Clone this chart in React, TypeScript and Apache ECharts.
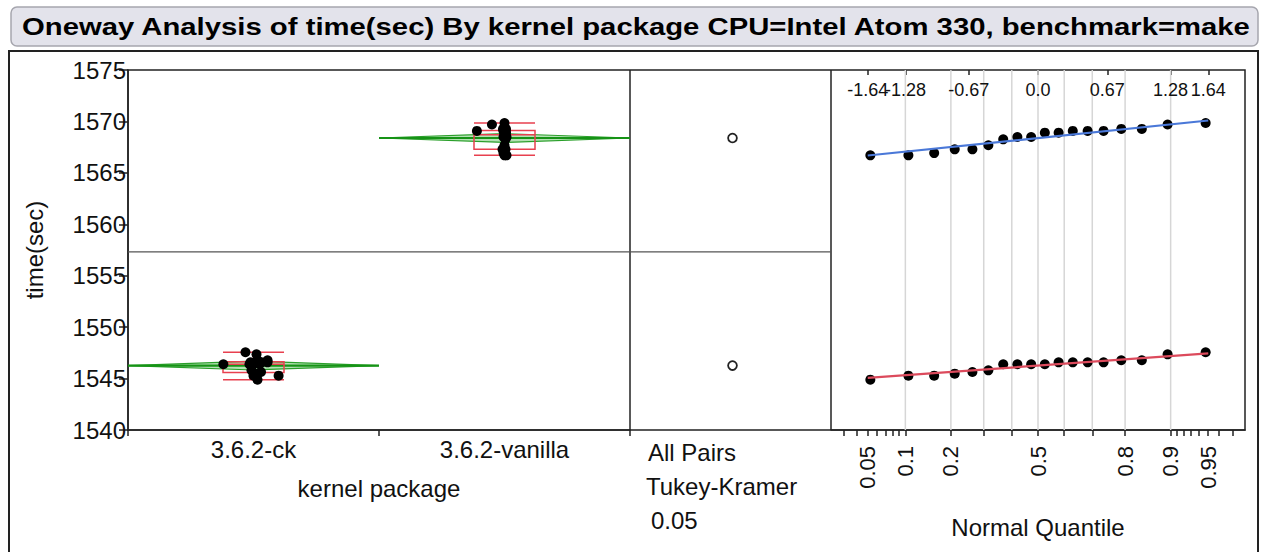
import React, { useEffect, useRef } from "react";
import * as echarts from "echarts";

// ---------- data ----------
const categories = ["3.6.2-ck", "3.6.2-vanilla"];
const ckTimes = [1544.89, 1545.28, 1545.28, 1545.48, 1545.64, 1545.8, 1546.39, 1546.39, 1546.39, 1546.39, 1546.58, 1546.58, 1546.58, 1546.58, 1546.78, 1546.78, 1547.36, 1547.56];
const ckJitter = [0.016, 0.1, 0, 0.016, 0.03, -0.008, -0.12, 0, 0.024, -0.016, 0.012, 0.032, -0.012, 0.056, 0.056, 0.016, 0.012, -0.032];
const vanillaTimes = [1566.7, 1566.7, 1566.92, 1567.29, 1567.29, 1567.68, 1568.26, 1568.49, 1568.49, 1568.91, 1568.91, 1569.08, 1569.08, 1569.08, 1569.27, 1569.27, 1569.7, 1569.85];
const vanillaJitter = [0, 0.008, -0.004, 0.004, -0.008, 0, 0.004, -0.004, 0.008, 0, 0.006, -0.11, 0.004, -0.004, 0.006, -0.006, -0.05, 0];
const yMin = 1540;
const yMax = 1575;
const yStep = 5;
const topQuantLabels = ["-1.64", "-1.28", "-0.67", "0.0", "0.67", "1.28", "1.64"];
const topQuantValues = [-1.645, -1.28, -0.67, 0, 0.67, 1.28, 1.645];
const probLabels = [0.05, 0.1, 0.2, 0.5, 0.8, 0.9, 0.95];
const probTicks = [0.03, 0.04, 0.05, 0.06, 0.07, 0.08, 0.09, 0.1, 0.2, 0.3, 0.4, 0.5, 0.6, 0.7, 0.8, 0.9, 0.91, 0.92, 0.93, 0.94, 0.95, 0.96, 0.97];
const probGrid = [0.1, 0.2, 0.3, 0.4, 0.5, 0.6, 0.7, 0.8, 0.9];
const tCrit = 2.032; // t(0.975, df=34)
const title = "Oneway Analysis of time(sec) By kernel package CPU=Intel Atom 330, benchmark=make";

// ---------- helpers ----------
function normInv(p: number): number {
  const a = [-3.969683028665376e1, 2.209460984245205e2, -2.759285104469687e2, 1.38357751867269e2, -3.066479806614716e1, 2.506628277459239];
  const b = [-5.447609879822406e1, 1.615858368580409e2, -1.556989798598866e2, 6.680131188771972e1, -1.328068155288572e1];
  const c = [-7.784894002430293e-3, -3.223964580411365e-1, -2.400758277161838, -2.549732539343734, 4.374664141464968, 2.938163982698783];
  const d = [7.784695709041462e-3, 3.224671290700398e-1, 2.445134137142996, 3.754408661907416];
  const pl = 0.02425;
  if (p < pl) {
    const q = Math.sqrt(-2 * Math.log(p));
    return (((((c[0] * q + c[1]) * q + c[2]) * q + c[3]) * q + c[4]) * q + c[5]) / ((((d[0] * q + d[1]) * q + d[2]) * q + d[3]) * q + 1);
  }
  if (p <= 1 - pl) {
    const q = p - 0.5;
    const r = q * q;
    return ((((((a[0] * r + a[1]) * r + a[2]) * r + a[3]) * r + a[4]) * r + a[5]) * q) / (((((b[0] * r + b[1]) * r + b[2]) * r + b[3]) * r + b[4]) * r + 1);
  }
  const q = Math.sqrt(-2 * Math.log(1 - p));
  return -(((((c[0] * q + c[1]) * q + c[2]) * q + c[3]) * q + c[4]) * q + c[5]) / ((((d[0] * q + d[1]) * q + d[2]) * q + d[3]) * q + 1);
}
const mean = (a: number[]) => a.reduce((s, v) => s + v, 0) / a.length;
const ss = (a: number[]) => {
  const m = mean(a);
  return a.reduce((s, v) => s + (v - m) * (v - m), 0);
};
const sd = (a: number[]) => Math.sqrt(ss(a) / (a.length - 1));
function quant(a: number[], p: number) {
  const s = [...a].sort((x, y) => x - y);
  const pos = (s.length + 1) * p;
  const lo = Math.min(Math.max(Math.floor(pos), 1), s.length);
  const hi = Math.min(lo + 1, s.length);
  const f = pos - Math.floor(pos);
  return s[lo - 1] + f * (s[hi - 1] - s[lo - 1]);
}
const fiveNum = (a: number[]) => [Math.min(...a), quant(a, 0.25), quant(a, 0.5), quant(a, 0.75), Math.max(...a)];

const FONT = "'Liberation Sans', Arial, sans-serif";
const TXT = "#111";
const FS = 24;

export default function App() {
  const ref = useRef<HTMLDivElement>(null);
  useEffect(() => {
    if (!ref.current) return;
    const chart = echarts.init(ref.current, undefined, { renderer: "svg" });

    const groups = [ckTimes, vanillaTimes];
    const means = groups.map(mean);
    const sdPooled = Math.sqrt((ss(ckTimes) + ss(vanillaTimes)) / (ckTimes.length + vanillaTimes.length - 2));
    const ci = groups.map((g) => (tCrit * sdPooled) / Math.sqrt(g.length));
    const grandMean = mean([...ckTimes, ...vanillaTimes]);

    const jitterData = [
      ...ckTimes.map((v, i) => [0.5 + ckJitter[i], v]),
      ...vanillaTimes.map((v, i) => [1.5 + vanillaJitter[i], v]),
    ];
    const qqData = (g: number[]) => {
      const s = [...g].sort((x, y) => x - y);
      return s.map((v, i) => [normInv((i + 1) / (s.length + 1)), v]);
    };
    const fitLine = (g: number[]) => {
      const m = mean(g);
      const s = sd(g);
      return [[-1.645, m - 1.645 * s], [1.645, m + 1.645 * s]];
    };

    const probTickZ = probTicks.map(normInv).filter((z) => z > -2 && z < 2);
    const probLabelZ = probLabels.map(normInv);

    const axisLineStyle = { color: "#222", width: 1.5 };

    const option: any = {
      animation: false,
      backgroundColor: "#fff",
      textStyle: { fontFamily: FONT },
      grid: [
        { left: 128, top: 70, width: 502, height: 360 },
        { left: 630, top: 70, width: 201, height: 360 },
        { left: 831, top: 70, width: 414, height: 360 },
      ],
      xAxis: [
        {
          gridIndex: 0,
          type: "category",
          data: categories,
          axisLine: { show: true, lineStyle: axisLineStyle },
          axisTick: { show: true, length: 6, lineStyle: { color: "#222", width: 1.5 } },
          axisLabel: { fontSize: FS, color: TXT, margin: 7, fontFamily: FONT },
          splitLine: { show: false },
          name: "kernel package",
          nameLocation: "middle",
          nameGap: 46,
          nameTextStyle: { fontSize: FS, color: TXT, fontFamily: FONT },
        },
        { gridIndex: 0, type: "value", min: 0, max: 2, show: false },
        { gridIndex: 1, type: "value", min: 0, max: 1, show: false },
        {
          gridIndex: 2,
          type: "value",
          min: -2,
          max: 2,
          position: "bottom",
          axisLine: { show: true, lineStyle: axisLineStyle },
          axisTick: { show: true, length: 6, customValues: probTickZ, lineStyle: { color: "#222", width: 1.5 } },
          axisLabel: {
            customValues: probLabelZ,
            rotate: 90,
            margin: 16,
            fontSize: 22,
            color: TXT,
            fontFamily: FONT,
            formatter: (v: number) => {
              let best = 0;
              probLabelZ.forEach((z, i) => {
                if (Math.abs(z - v) < Math.abs(probLabelZ[best] - v)) best = i;
              });
              return String(probLabels[best]);
            },
          },
          splitLine: { show: false },
          name: "Normal Quantile",
          nameLocation: "middle",
          nameGap: 85,
          nameTextStyle: { fontSize: FS, color: TXT, fontFamily: FONT },
        },
        {
          gridIndex: 2,
          type: "value",
          min: -2,
          max: 2,
          position: "top",
          axisLine: { show: false },
          axisTick: { show: true, inside: true, length: 5, customValues: topQuantValues, lineStyle: { color: "#222", width: 1.5 } },
          axisLabel: { show: false },
          splitLine: { show: false },
        },
      ],
      yAxis: [
        {
          gridIndex: 0,
          type: "value",
          min: yMin,
          max: yMax,
          interval: yStep,
          axisLine: { show: true, lineStyle: axisLineStyle },
          axisTick: { show: true, length: 9, lineStyle: { color: "#222", width: 1.5 } },
          axisLabel: { fontSize: FS, color: TXT, margin: 2, fontFamily: FONT, formatter: (v: number) => String(v) },
          splitLine: { show: false },
          name: "time(sec)",
          nameLocation: "middle",
          nameRotate: 90,
          nameGap: 82,
          nameTextStyle: { fontSize: FS, color: TXT, fontFamily: FONT },
        },
        { gridIndex: 1, type: "value", min: yMin, max: yMax, interval: yStep, show: false },
        { gridIndex: 2, type: "value", min: yMin, max: yMax, interval: yStep, show: false },
      ],
      series: [
        // grand mean line across panels 1 and 2
        {
          type: "line",
          xAxisIndex: 1,
          yAxisIndex: 0,
          data: [[0, grandMean], [2, grandMean]],
          symbol: "none",
          lineStyle: { color: "#555", width: 1.2 },
          silent: true,
        },
        {
          type: "line",
          xAxisIndex: 2,
          yAxisIndex: 1,
          data: [[0, grandMean], [1, grandMean]],
          symbol: "none",
          lineStyle: { color: "#555", width: 1.2 },
          silent: true,
        },
        // means diamonds
        {
          type: "custom",
          xAxisIndex: 1,
          yAxisIndex: 0,
          data: means.map((m, i) => [i, m, ci[i]]),
          renderItem: (params: any, api: any) => {
            const g = api.value(0);
            const m = api.value(1);
            const h = api.value(2);
            const l = api.coord([g, m]);
            const r = api.coord([g + 1, m]);
            const t = api.coord([g + 0.5, m + h]);
            const b = api.coord([g + 0.5, m - h]);
            return {
              type: "group",
              children: [
                { type: "polygon", shape: { points: [l, t, r, b] }, style: { fill: "rgba(40,170,40,0.35)", stroke: "#2a9f2a", lineWidth: 1.2 } },
                { type: "line", shape: { x1: l[0], y1: l[1], x2: r[0], y2: r[1] }, style: { stroke: "#169316", lineWidth: 2.2 } },
              ],
            };
          },
          silent: true,
        },
        // box plots
        {
          type: "boxplot",
          xAxisIndex: 0,
          yAxisIndex: 0,
          data: groups.map(fiveNum),
          boxWidth: [61, 61],
          itemStyle: { color: "rgba(0,0,0,0)", borderColor: "#e8404f", borderWidth: 1.5 },
          silent: true,
        },
        // jittered points
        {
          type: "scatter",
          xAxisIndex: 1,
          yAxisIndex: 0,
          data: jitterData,
          symbolSize: 10,
          itemStyle: { color: "#000", opacity: 1 },
          silent: true,
        },
        // comparison circles
        {
          type: "custom",
          xAxisIndex: 2,
          yAxisIndex: 1,
          data: means.map((m, i) => [0.5, m, ci[i]]),
          renderItem: (params: any, api: any) => {
            const p = api.coord([api.value(0), api.value(1)]);
            const r = Math.abs(api.size([0, api.value(2)])[1]);
            return { type: "circle", shape: { cx: p[0] + 2, cy: p[1], r }, style: { fill: "none", stroke: "#222", lineWidth: 1.8 } };
          },
          silent: true,
        },
        // quantile grid lines
        {
          type: "custom",
          xAxisIndex: 3,
          yAxisIndex: 2,
          data: probGrid.map((p) => [normInv(p), grandMean]),
          renderItem: (params: any, api: any) => {
            const x = api.coord([api.value(0), api.value(1)])[0];
            const cs = params.coordSys;
            return { type: "line", shape: { x1: x, y1: cs.y, x2: x, y2: cs.y + cs.height }, style: { stroke: "#d6d6d6", lineWidth: 1.5 } };
          },
          silent: true,
        },
        // top normal-quantile labels
        {
          type: "custom",
          xAxisIndex: 4,
          yAxisIndex: 2,
          data: topQuantValues.map((z) => [z, yMax]),
          renderItem: (params: any, api: any) => {
            const x = api.coord([api.value(0), api.value(1)])[0];
            const cs = params.coordSys;
            return {
              type: "text",
              x,
              y: cs.y + 20,
              style: { text: topQuantLabels[params.dataIndex], fontSize: 18, fontFamily: FONT, fill: TXT, align: "center", verticalAlign: "middle" },
            };
          },
          silent: true,
        },
        // fit lines
        {
          type: "line",
          xAxisIndex: 3,
          yAxisIndex: 2,
          data: fitLine(vanillaTimes),
          symbol: "none",
          lineStyle: { color: "#4a78d8", width: 2.2 },
          silent: true,
        },
        {
          type: "line",
          xAxisIndex: 3,
          yAxisIndex: 2,
          data: fitLine(ckTimes),
          symbol: "none",
          lineStyle: { color: "#dc4a5c", width: 2.2 },
          silent: true,
        },
        // quantile points
        {
          type: "scatter",
          xAxisIndex: 3,
          yAxisIndex: 2,
          data: [...qqData(vanillaTimes), ...qqData(ckTimes)],
          symbolSize: 10,
          itemStyle: { color: "#000", opacity: 1 },
          silent: true,
        },
      ],
      graphic: [
        {
          type: "rect",
          shape: { x: 11, y: 7, width: 1247, height: 39, r: 6 },
          style: { fill: "#e3e3eb", stroke: "#a6a6ae", lineWidth: 1.5 },
          silent: true,
        },
        {
          type: "text",
          x: 22,
          y: 27,
          scaleX: 1.22,
          style: { text: title, fontSize: 24, fontWeight: "bold", fontFamily: FONT, fill: "#000", verticalAlign: "middle", align: "left" },
          silent: true,
        },
        {
          type: "rect",
          shape: { x: 9, y: 51, width: 1249, height: 520 },
          style: { fill: "none", stroke: "#222", lineWidth: 2 },
          silent: true,
        },
        {
          type: "rect",
          shape: { x: 128, y: 70, width: 1117, height: 360 },
          style: { fill: "none", stroke: "#222", lineWidth: 1.5 },
          silent: true,
        },
        { type: "line", shape: { x1: 630, y1: 70, x2: 630, y2: 430 }, style: { stroke: "#222", lineWidth: 1.5 }, silent: true },
        { type: "line", shape: { x1: 831, y1: 70, x2: 831, y2: 430 }, style: { stroke: "#222", lineWidth: 1.5 }, silent: true },
        { type: "text", x: 648, y: 452, style: { text: "All Pairs", fontSize: FS, fontFamily: FONT, fill: TXT, verticalAlign: "middle" }, silent: true },
        { type: "text", x: 646, y: 486, style: { text: "Tukey-Kramer", fontSize: FS, fontFamily: FONT, fill: TXT, verticalAlign: "middle" }, silent: true },
        { type: "text", x: 651, y: 520, style: { text: "0.05", fontSize: FS, fontFamily: FONT, fill: TXT, verticalAlign: "middle" }, silent: true },
      ],
    };
    chart.setOption(option);
    return () => chart.dispose();
  }, []);
  return <div ref={ref} style={{ position: "fixed", left: 0, top: 0, width: 1262, height: 552, background: "#fff" }} />;
}
